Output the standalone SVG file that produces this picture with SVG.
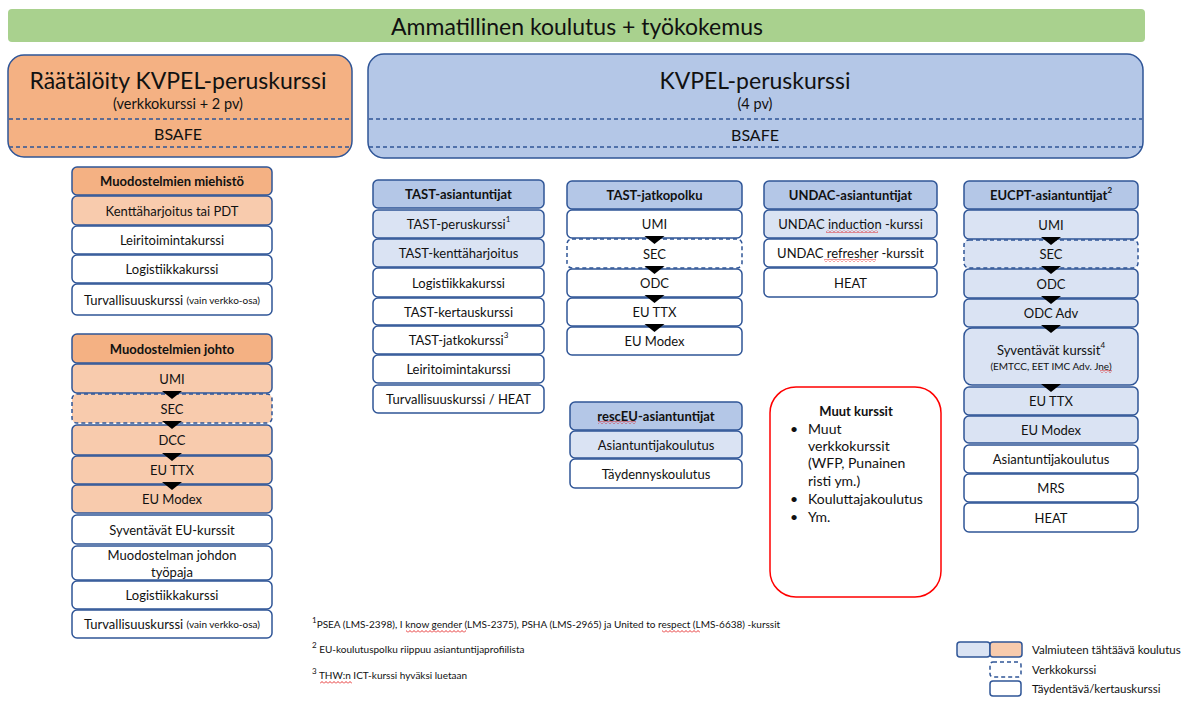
<svg xmlns="http://www.w3.org/2000/svg" width="1199" height="704" viewBox="0 0 1199 704">
<style>
.r{stroke:#2F5597;stroke-width:1.5}
.h{fill:#B4C7E7}.l{fill:#DAE3F3}.w{fill:#fff}.oh{fill:#F4B183}.ol{fill:#F8CBAD}
.d{stroke-dasharray:4 3}
text{font-family:Lato,"Liberation Sans",sans-serif;fill:#111}
.t{font-size:13px;text-anchor:middle;dominant-baseline:central}
.t24{font-size:23px}.t14{font-size:14.5px}.t16{font-size:16px}
.b{font-weight:bold}
.s{font-size:10px}
.sup{font-size:8px;baseline-shift:super}
.fn{font-size:10px}
.lg{font-size:11.5px;dominant-baseline:central}
.mk{font-size:14px}
.arr{fill:#000}
</style>
<defs>
<pattern id="sq" width="4" height="3" patternUnits="userSpaceOnUse"><path d="M0,2.5 L2,0.5 L4,2.5" fill="none" stroke="#E00000" stroke-width="0.8"/></pattern>
</defs>
<rect x="8" y="9" width="1137" height="33" rx="4" fill="#A9D18E"/>
<text x="577" y="26" style="font-size:23px" text-anchor="middle" dominant-baseline="central">Ammatillinen koulutus + työkokemus</text>

<g id="raataloity">
<rect class="r" x="8" y="55" width="344" height="102" rx="16" fill="#F4B183"/>
<line class="r d" x1="9" y1="119" x2="351" y2="119"/>
<line class="r d" x1="9" y1="147" x2="351" y2="147"/>
<text class="t t24" x="178" y="80">Räätälöity KVPEL-peruskurssi</text>
<text class="t t14" x="178" y="103">(verkkokurssi + 2 pv)</text>
<text class="t t16" x="178" y="133">BSAFE</text>
</g>
<g id="kvpel">
<rect class="r" x="368" y="54" width="775" height="104" rx="16" fill="#B4C7E7"/>
<line class="r d" x1="369" y1="119" x2="1142" y2="119"/>
<line class="r d" x1="369" y1="147" x2="1142" y2="147"/>
<text class="t t24" x="755" y="80">KVPEL-peruskurssi</text>
<text class="t t14" x="755" y="103">(4 pv)</text>
<text class="t t16" x="755" y="134">BSAFE</text>
</g>

<g id="miehisto">
<rect class="r oh" x="72" y="167" width="200" height="28" rx="5"/><text class="t b" x="172" y="181">Muodostelmien miehistö</text>
<rect class="r ol" x="72" y="196" width="200" height="29" rx="5"/><text class="t" x="172" y="210.5">Kenttäharjoitus tai PDT</text>
<rect class="r w" x="72" y="226" width="200" height="28" rx="5"/><text class="t" x="172" y="240">Leiritoimintakurssi</text>
<rect class="r w" x="72" y="255" width="200" height="28" rx="5"/><text class="t" x="172" y="269">Logistiikkakurssi</text>
<rect class="r w" x="72" y="284" width="200" height="31" rx="5"/><text class="t" x="172" y="299.5">Turvallisuuskurssi <tspan class="s">(vain verkko-osa)</tspan></text>
</g>

<g id="johto">
<rect class="r oh" x="72" y="334" width="200" height="29" rx="5"/><text class="t b" x="172" y="348.5">Muodostelmien johto</text>
<rect class="r ol" x="72" y="364" width="200" height="29" rx="5"/><text class="t" x="172" y="378.5">UMI</text>
<rect class="r ol d" x="72" y="394" width="200" height="29" rx="5"/><text class="t" x="172" y="408.5">SEC</text>
<rect class="r ol" x="72" y="425" width="200" height="30" rx="5"/><text class="t" x="172" y="440">DCC</text>
<rect class="r ol" x="72" y="456" width="200" height="28" rx="5"/><text class="t" x="172" y="470">EU TTX</text>
<rect class="r ol" x="72" y="485" width="200" height="28" rx="5"/><text class="t" x="172" y="499">EU Modex</text>
<rect class="r w" x="72" y="515" width="200" height="29" rx="5"/><text class="t" x="172" y="529.5">Syventävät EU-kurssit</text>
<rect class="r w" x="72" y="546" width="200" height="34" rx="5"/><text class="t" x="172" y="555">Muodostelman johdon</text><text class="t" x="172" y="572">työpaja</text>
<rect class="r w" x="72" y="581" width="200" height="28" rx="5"/><text class="t" x="172" y="595">Logistiikkakurssi</text>
<rect class="r w" x="72" y="610" width="200" height="28" rx="5"/><text class="t" x="172" y="624">Turvallisuuskurssi <tspan class="s">(vain verkko-osa)</tspan></text>
</g>

<g id="tast-asiantuntijat">
<rect class="r h" x="373" y="180" width="171" height="28" rx="5"/><text class="t b" x="458.5" y="194">TAST-asiantuntijat</text>
<rect class="r l" x="373" y="210" width="171" height="28" rx="5"/><text class="t" x="458.5" y="224">TAST-peruskurssi<tspan class="sup">1</tspan></text>
<rect class="r l" x="373" y="239" width="171" height="28" rx="5"/><text class="t" x="458.5" y="253">TAST-kenttäharjoitus</text>
<rect class="r w" x="373" y="268" width="171" height="29" rx="5"/><text class="t" x="458.5" y="282.5">Logistiikkakurssi</text>
<rect class="r w" x="373" y="298" width="171" height="27" rx="5"/><text class="t" x="458.5" y="311.5">TAST-kertauskurssi</text>
<rect class="r w" x="373" y="326" width="171" height="28" rx="5"/><text class="t" x="458.5" y="340">TAST-jatkokurssi<tspan class="sup">3</tspan></text>
<rect class="r w" x="373" y="355" width="171" height="28" rx="5"/><text class="t" x="458.5" y="369">Leiritoimintakurssi</text>
<rect class="r w" x="373" y="385" width="171" height="28" rx="5"/><text class="t" x="458.5" y="399">Turvallisuuskurssi / HEAT</text>
</g>

<g id="tast-jatkopolku">
<rect class="r h" x="567" y="181" width="175" height="28" rx="5"/><text class="t b" x="654.5" y="195">TAST-jatkopolku</text>
<rect class="r w" x="567" y="210" width="175" height="28" rx="5"/><text class="t" x="654.5" y="224">UMI</text>
<rect class="r w d" x="567" y="239" width="175" height="29" rx="5"/><text class="t" x="654.5" y="253.5">SEC</text>
<rect class="r w" x="567" y="269" width="175" height="28" rx="5"/><text class="t" x="654.5" y="283">ODC</text>
<rect class="r w" x="567" y="298" width="175" height="28" rx="5"/><text class="t" x="654.5" y="312">EU TTX</text>
<rect class="r w" x="567" y="327" width="175" height="28" rx="5"/><text class="t" x="654.5" y="341">EU Modex</text>
</g>

<g id="resceu">
<rect class="r h" x="570" y="402" width="172" height="28" rx="5"/><text class="t b" x="656" y="416">rescEU-asiantuntijat</text>
<rect x="598" y="421" width="38" height="3" fill="url(#sq)"/>
<rect class="r l" x="570" y="431" width="172" height="27" rx="5"/><text class="t" x="656" y="444.5">Asiantuntijakoulutus</text>
<rect class="r w" x="570" y="459" width="172" height="29" rx="5"/><text class="t" x="656" y="473.5">Täydennyskoulutus</text>
</g>

<g id="undac">
<rect class="r h" x="764" y="181" width="173" height="28" rx="5"/><text class="t b" x="850.5" y="195">UNDAC-asiantuntijat</text>
<rect class="r l" x="764" y="210" width="173" height="28" rx="5"/><text class="t" x="850.5" y="224">UNDAC induction -kurssi</text>
<rect x="826" y="230" width="52" height="3" fill="url(#sq)"/>
<rect class="r w" x="764" y="239" width="173" height="28" rx="5"/><text class="t" x="850.5" y="253">UNDAC refresher -kurssit</text>
<rect x="824" y="259" width="52" height="3" fill="url(#sq)"/>
<rect class="r w" x="764" y="268" width="173" height="29" rx="5"/><text class="t" x="850.5" y="282.5">HEAT</text>
</g>

<g id="muut-kurssit">
<rect x="770" y="387" width="171" height="210" rx="26" fill="#fff" stroke="#FF0000" stroke-width="1.5"/>
<text class="t b" x="856" y="411">Muut kurssit</text>
<text class="mk" x="790" y="434">•</text><text class="mk" x="808" y="434">Muut</text>
<text class="mk" x="808" y="451">verkkokurssit</text>
<text class="mk" x="808" y="468">(WFP, Punainen</text>
<text class="mk" x="808" y="486">risti ym.)</text>
<text class="mk" x="790" y="504">•</text><text class="mk" x="808" y="504">Kouluttajakoulutus</text>
<text class="mk" x="790" y="522">•</text><text class="mk" x="808" y="522">Ym.</text>
</g>

<g id="eucpt">
<rect class="r h" x="964" y="181" width="174" height="28" rx="5"/><text class="t b" x="1051" y="195">EUCPT-asiantuntijat<tspan class="sup">2</tspan></text>
<rect class="r l" x="964" y="210" width="174" height="29" rx="5"/><text class="t" x="1051" y="224.5">UMI</text>
<rect class="r l d" x="964" y="240" width="174" height="28" rx="5"/><text class="t" x="1051" y="254">SEC</text>
<rect class="r l" x="964" y="269" width="174" height="29" rx="5"/><text class="t" x="1051" y="283.5">ODC</text>
<rect class="r l" x="964" y="299" width="174" height="28" rx="5"/><text class="t" x="1051" y="313">ODC Adv</text>
<rect class="r l" x="964" y="328" width="174" height="57" rx="8"/><text class="t" x="1051" y="350">Syventävät kurssit<tspan class="sup">4</tspan></text><text class="t s" x="1051" y="366">(EMTCC, EET IMC Adv. Jne)</text>
<rect x="1100" y="370" width="12" height="3" fill="url(#sq)"/>
<rect class="r l" x="964" y="387" width="174" height="28" rx="5"/><text class="t" x="1051" y="401">EU TTX</text>
<rect class="r l" x="964" y="416" width="174" height="27" rx="5"/><text class="t" x="1051" y="429.5">EU Modex</text>
<rect class="r w" x="964" y="445" width="174" height="28" rx="5"/><text class="t" x="1051" y="459">Asiantuntijakoulutus</text>
<rect class="r w" x="964" y="474" width="174" height="28" rx="5"/><text class="t" x="1051" y="488">MRS</text>
<rect class="r w" x="964" y="503" width="174" height="29" rx="5"/><text class="t" x="1051" y="517.5">HEAT</text>
</g>

<g id="connectors" class="arr">
<polygon points="162,391 182,391 172,399"/>
<polygon points="162,421 182,421 172,429"/>
<polygon points="162,453 182,453 172,461"/>
<polygon points="162,482 182,482 172,490"/>
<polygon points="644.5,236 664.5,236 654.5,244"/>
<polygon points="644.5,266 664.5,266 654.5,274"/>
<polygon points="644.5,295 664.5,295 654.5,303"/>
<polygon points="644.5,324 664.5,324 654.5,332"/>
<polygon points="1041,237 1061,237 1051,245"/>
<polygon points="1041,266 1061,266 1051,274"/>
<polygon points="1041,296 1061,296 1051,304"/>
<polygon points="1041,325 1061,325 1051,333"/>
<polygon points="1041,384 1061,384 1051,392"/>
</g>

<g id="footnotes">
<text class="fn" x="312" y="628"><tspan class="sup">1</tspan>PSEA (LMS-2398), I know gender (LMS-2375), PSHA (LMS-2965) ja United to respect (LMS-6638) -kurssit</text>
<rect x="406" y="630" width="60" height="3" fill="url(#sq)"/>
<rect x="662" y="630" width="38" height="3" fill="url(#sq)"/>
<text class="fn" x="312" y="653"><tspan class="sup">2</tspan> EU-koulutuspolku riippuu asiantuntijaprofiilista</text>
<text class="fn" x="312" y="679"><tspan class="sup">3</tspan> THW:n ICT-kurssi hyväksi luetaan</text>
<rect x="320" y="681" width="32" height="3" fill="url(#sq)"/>
</g>

<g id="legend">
<rect class="r l" x="957" y="642" width="33" height="15" rx="3"/>
<rect class="r ol" x="990" y="642" width="32" height="15" rx="3"/>
<text class="lg" x="1032" y="649.5">Valmiuteen tähtäävä koulutus</text>
<rect class="r w d" x="990" y="662" width="31" height="15" rx="3"/>
<text class="lg" x="1032" y="669.5">Verkkokurssi</text>
<rect class="r w" x="990" y="681" width="31" height="15" rx="3"/>
<text class="lg" x="1032" y="688.5">Täydentävä/kertauskurssi</text>
</g>
</svg>
